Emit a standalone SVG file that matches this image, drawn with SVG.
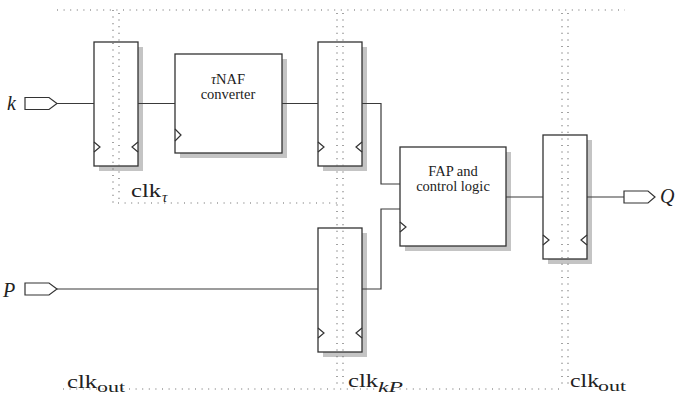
<svg xmlns="http://www.w3.org/2000/svg" width="676" height="397" viewBox="0 0 676 397">
  <defs>
    <style>
      .shadow { fill: #c4c4c4; }
      .box { fill: #ffffff; stroke: #333333; stroke-width: 1.3; }
      .wire { fill: none; stroke: #3a3a3a; stroke-width: 1.2; }
      .clk { fill: none; stroke: #333333; stroke-width: 1.2; }
      .port { fill: #ffffff; stroke: #333333; stroke-width: 1.2; }
      .dom { fill: none; stroke: #666666; stroke-width: 1.2; stroke-dasharray: 1 5.6; }
      .lbl { font-family: "Liberation Serif", "Times New Roman", serif; font-size: 14.5px; fill: #222222; text-anchor: middle; }
      .math { font-family: "Liberation Serif", "Times New Roman", serif; font-style: italic; fill: #222222; }
      .clkname { font-family: "Liberation Serif", "Times New Roman", serif; fill: #222222; }
    </style>
  </defs>

  <!-- input / output ports -->
  <g id="port-k">
    <path class="port" d="M25,97.5 H49 L57,103.5 L49,109.5 H25 Z"/>
    <text class="math" x="7" y="110" font-size="20">k</text>
  </g>
  <g id="port-P">
    <path class="port" d="M25,283 H49 L57,289 L49,295 H25 Z"/>
    <text class="math" x="3" y="297" font-size="20">P</text>
  </g>
  <g id="port-Q">
    <path class="port" d="M624,191 H648 L655,197 L648,203 H624 Z"/>
    <text class="math" x="660" y="203" font-size="20">Q</text>
  </g>

  <!-- register for k -->
  <g id="reg-k">
    <rect class="shadow" x="99" y="47" width="44" height="124"/>
    <rect class="box" x="94" y="42" width="44" height="124"/>
    <path class="clk" d="M94,142 L100,147 L94,152"/>
    <path class="clk" d="M138,142 L132,147 L138,152"/>
  </g>

  <!-- tau-NAF converter -->
  <g id="tnaf">
    <rect class="shadow" x="180" y="59" width="107" height="99"/>
    <rect class="box" x="175" y="54" width="107" height="99"/>
    <path class="clk" d="M175,129 L181,135 L175,141"/>
    <text class="lbl" x="228" y="84"><tspan font-style="italic">τ</tspan>NAF</text>
    <text class="lbl" x="228" y="99">converter</text>
  </g>

  <!-- register after converter -->
  <g id="reg-tnaf">
    <rect class="shadow" x="323" y="47" width="44" height="124"/>
    <rect class="box" x="318" y="42" width="44" height="124"/>
    <path class="clk" d="M318,142 L324,147 L318,152"/>
    <path class="clk" d="M362,142 L356,147 L362,152"/>
  </g>

  <!-- register for P -->
  <g id="reg-P">
    <rect class="shadow" x="323" y="233" width="44" height="124"/>
    <rect class="box" x="318" y="228" width="44" height="124"/>
    <path class="clk" d="M318,328 L324,333 L318,338"/>
    <path class="clk" d="M362,328 L356,333 L362,338"/>
  </g>

  <!-- FAP and control logic -->
  <g id="fap">
    <rect class="shadow" x="405" y="152" width="106" height="99"/>
    <rect class="box" x="400" y="147" width="106" height="99"/>
    <path class="clk" d="M400,222 L406,227 L400,232"/>
    <text class="lbl" x="453" y="176">FAP and</text>
    <text class="lbl" x="453" y="191">control logic</text>
  </g>

  <!-- output register -->
  <g id="reg-out">
    <rect class="shadow" x="548" y="140" width="44" height="124"/>
    <rect class="box" x="543" y="135" width="44" height="124"/>
    <path class="clk" d="M543,235 L549,240 L543,245"/>
    <path class="clk" d="M587,235 L581,240 L587,245"/>
  </g>

  <!-- connectors -->
  <g id="wires">
    <path class="wire" d="M57,103.5 H94"/>
    <path class="wire" d="M138,103.5 H175"/>
    <path class="wire" d="M282,103.5 H318"/>
    <path class="wire" d="M362,103.5 H381 V184 H400"/>
    <path class="wire" d="M57,289 H318"/>
    <path class="wire" d="M362,289 H381 V209 H400"/>
    <path class="wire" d="M506,197 H543"/>
    <path class="wire" d="M587,197 H624"/>
  </g>

  <!-- clock domain boundaries -->
  <g id="domains">
    <path class="dom" d="M57,10 H625"/>
    <path class="dom" d="M113,10 V203 H337"/>
    <path class="dom" d="M119,13 V199"/>
    <path class="dom" d="M337,13 V389"/>
    <path class="dom" d="M343,13 V389"/>
    <path class="dom" d="M562,13 V389"/>
    <path class="dom" d="M568,13 V389"/>
    <path class="dom" d="M63,389 H562"/>
  </g>

  <!-- clock domain labels -->
  <g id="clk-labels">
    <text class="clkname" x="131" y="197" font-size="19" textLength="30" lengthAdjust="spacingAndGlyphs">clk</text>
    <text class="math" x="162" y="202" font-size="15">τ</text>

    <text class="clkname" x="67" y="388" font-size="19" textLength="30" lengthAdjust="spacingAndGlyphs">clk</text>
    <text class="clkname" x="97" y="392" font-size="15" textLength="28" lengthAdjust="spacingAndGlyphs">out</text>

    <text class="clkname" x="348" y="387" font-size="19" textLength="30" lengthAdjust="spacingAndGlyphs">clk</text>
    <text class="math" x="378" y="392" font-size="15" textLength="25" lengthAdjust="spacingAndGlyphs">kP</text>

    <text class="clkname" x="570" y="387" font-size="19" textLength="29" lengthAdjust="spacingAndGlyphs">clk</text>
    <text class="clkname" x="598" y="391" font-size="15" textLength="28" lengthAdjust="spacingAndGlyphs">out</text>
  </g>
</svg>
